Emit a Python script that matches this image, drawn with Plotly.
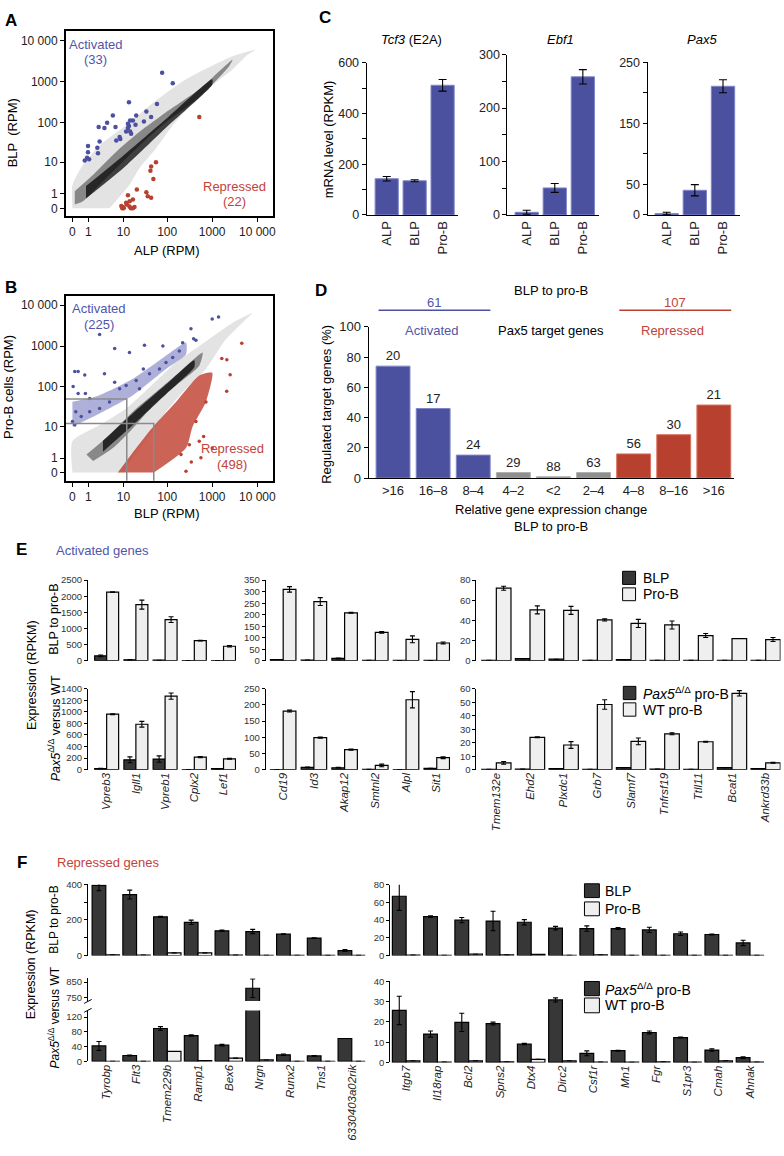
import plotly.graph_objects as go

W, H = 784, 1156
FONT = "Liberation Sans, Arial, Helvetica, sans-serif"

BLUE = "#4b509f"
BLUE_EDGE = "#8087c9"
BLUE_TXT = "#4f56aa"
RED = "#b8402f"
RED_EDGE = "#d9735f"
RED_TXT = "#c1433a"
GREY = "#8e8e8e"
DARK = "#373737"
LIGHT = "#efefef"

# ---------------- data ----------------
PSEUDO = 0.8  # pseudo-count used by the log display of RPM values
TICK_RPM = [0, 1, 10, 100, 1000, 10000]
TICK_RPM_TEXT = ["0", "1", "10", "100", "1000", "10 000"]

# Panel A: ALP (x) vs BLP (y), RPM
A_ACT_ALP = [77, 133, 13.5, 59, 34, 5.5, 19.9, 16.7, 12.8, 14.4, 43.6, 29.9, 3.9, 2.25, 3.3, 6.4, 13.5,
             11.6, 14.4, 15.2, 19.2, 8.1, 6.7, 8.4, 2.4, 0.97, 2.05, 0.97, 2.15, 0.89, 0.70, 1.07, 12.8]
A_ACT_BLP = [1660, 920, 313, 285, 186, 149, 149, 112, 93, 112, 136, 106, 98, 77, 73, 77, 82,
             60, 60, 53, 88, 44, 36, 39, 34, 26, 23.5, 18, 17, 13, 11, 12, 73]
A_REP_ALP = [517, 56, 43.6, 42, 49, 20.6, 12.8, 34, 36.6, 43.6, 16.7, 11.6, 8.9, 10.1, 13.9, 15, 16.7,
             18.2, 9.4, 12, 14, 10]
A_REP_BLP = [136, 9.9, 7.6, 5.9, 3.4, 1.5, 0.88, 1.19, 0.79, 0.65, 0.52, 0.30, 0.11, 0, 0.09, 0, 0,
             0.06, 0, 0.2, 0.4, 0.05]
# outline of the grey point cloud (sparse / core / dense)
A_CLOUD_ALP = [0, 0, 0.57, 2.4, 11.6, 40, 262, 2818, 9226, 6000, 2818, 517, 133, 56, 23.7, 13.9, 5.5, 4.5]
A_CLOUD_BLP = [0, 2.2, 8.4, 27, 85, 260, 1145, 4200, 6080, 4500, 2000, 454, 85, 22.5, 6.9, 2.2, 0.2, 0]
A_CORE_ALP = [0.1, 1.5, 6.7, 23.7, 94, 517, 2818, 2377, 517, 94, 29, 9.7, 3.0, 0.57, 0.1]
A_CORE_BLP = [1.3, 4.5, 18.6, 59, 179, 657, 3480, 2404, 413, 102, 33, 10.3, 2.9, 0.4, 0.2]
A_DENSE_ALP = [0.8, 10, 100, 1000, 1000, 100, 10, 0.8]
A_DENSE_BLP = [2, 15, 130, 1150, 850, 80, 7, 0.6]

# Panel B: BLP (x) vs pro-B (y), RPM
B_CLOUD_BLP = [0, 0, 2.4, 11.6, 40, 157, 517, 2818, 7780, 5000, 2010, 726, 262, 94, 40, 16.7, 9.7]
B_CLOUD_PROB = [0, 3.9, 10.9, 29, 98, 397, 1006, 3690, 6430, 4000, 1458, 274, 89, 24, 5.9, 1.04, 0]
B_CORE_BLP = [0.83, 4.5, 16.7, 56, 186, 613, 517, 157, 49, 16.7, 5.5, 1.5]
B_CORE_PROB = [1.42, 5.9, 24, 74, 228, 694, 330, 108, 35, 9, 2.4, 0.73]
B_DENSE_BLP = [3, 20, 100, 400, 400, 100, 20, 3]
B_DENSE_PROB = [4, 26, 120, 450, 300, 70, 13, 1.8]
B_ACT_BAND_BLP = [0, 2.4, 16.7, 94, 262, 262, 94, 16.7, 2.4, 0]
B_ACT_BAND_PROB = [9.9, 21.7, 62, 274, 633, 1210, 576, 157, 62, 42.3]
B_REP_BAND_BLP = [7.3, 19.9, 49, 157, 517, 1000, 726, 368, 262, 50]
B_REP_BAND_PROB = [0, 2.4, 10, 42, 190, 220, 42, 10, 2.4, 0]
B_ACT_BLP = [1383, 1000, 338, 2.4, 6.1, 30.8, 13.9, 387, 436, 221, 80, 0.1, 0.27, 0.7, 3.3, 0.03, 0.27,
             0.75, 1.13, 6.1, 8.1, 11.6, 19.9, 23.7, 40, 67, 133, 186, 94, 29, 0.15, 0.45, 1.13, 2.4,
             4.5, 0, 0.1]
B_ACT_PROB = [5140, 4600, 2640, 1927, 868, 1044, 694, 1513, 1390, 1210, 1006, 237, 237, 196, 210, 102,
              68, 68, 51, 130, 90, 108, 143, 90, 210, 274, 525, 761, 397, 274, 24, 18, 24, 29, 42,
              13.4, 10.9]
B_REP_BLP = [4529, 1637, 2113, 2500, 2100, 726, 645, 1000, 563, 344, 262, 311, 436, 517, 203]
B_REP_PROB = [1166, 497, 462, 199, 77, 42, 5.35, 2.4, 1.04, 0.65, 0.06, 3.06, 13.4, 3.9, 1.42]
B_GATES = [(12, 50), (50, 12)]  # (BLP, pro-B) corners of the grey gate lines

# Panel C
C_CELLS = ["ALP", "BLP", "Pro-B"]
C_TCF3 = [143, 135, 512]
C_TCF3_ERR = [9, 4, 23]
C_EBF1 = [5, 50.6, 258.6]
C_EBF1_ERR = [3.7, 8.4, 13.4]
C_PAX5 = [2.3, 40.4, 210.7]
C_PAX5_ERR = [2.1, 9.2, 10.7]

# Panel D
D_BINS = [">16", "16–8", "8–4", "4–2", "<2", "2–4", "4–8", "8–16", ">16"]
D_PCT = [74, 46, 15.2, 3.7, 0.9, 3.7, 16, 28.7, 48.3]
D_COUNTS = [20, 17, 24, 29, 88, 63, 56, 30, 21]
D_CLASS = ["act", "act", "act", "none", "none", "none", "rep", "rep", "rep"]

# Panel E (activated genes)
E_GENES_1 = ["Vpreb3", "Igll1", "Vpreb1", "Cplx2", "Lef1"]
E1_BLP = [150, 30, 15, 6, 5]
E1_BLP_ERR = [25, 5, 0, 0, 0]
E1_PROB = [2130, 1740, 1276, 623, 448]
E1_PROB_ERR = [10, 140, 90, 10, 25]
E1_PAX5 = [20, 171, 183, 2, 17]
E1_PAX5_ERR = [5, 50, 55, 0, 3]
E1_WT = [960, 786, 1272, 217, 188]
E1_WT_ERR = [8, 50, 55, 10, 8]

E_GENES_2 = ["Cd19", "Id3", "Akap12", "Smtnl2", "Alpl", "Sit1"]
E2_BLP = [5, 3, 10, 2, 1, 1]
E2_BLP_ERR = [0, 0, 2, 0, 0, 0]
E2_PROB = [310, 257, 208, 123, 93, 77]
E2_PROB_ERR = [12, 17, 2, 4, 15, 4]
E2_PAX5 = [0.5, 7, 6, 1, 0.5, 4]
E2_PAX5_ERR = [0, 1, 1, 0, 0, 0]
E2_WT = [181, 99, 62, 13, 216, 37]
E2_WT_ERR = [3, 2, 2, 4, 25, 3]

E_GENES_3 = ["Tmem132e", "Ehd2", "Plxdc1", "Grb7", "Slamf7", "Tnfrsf19", "Ttll11", "Bcat1", "Ankrd33b"]
E3_BLP = [0.4, 2, 1.5, 0.4, 1, 0.4, 0.3, 0.4, 0.3]
E3_BLP_ERR = [0, 0, 0, 0, 0, 0, 0, 0, 0]
E3_PROB = [72, 50.5, 50, 40.5, 37, 35.5, 25, 22, 21]
E3_PROB_ERR = [2, 4, 4, 1, 4, 4, 2, 0, 2]
E3_PAX5 = [0.3, 0.4, 0.8, 0.3, 1.5, 0.5, 0.3, 1.5, 0.8]
E3_PAX5_ERR = [0, 0, 0, 0, 0, 0, 0, 0, 0]
E3_WT = [5.1, 24, 18.3, 48.3, 21, 26.6, 20.7, 56.6, 5.1]
E3_WT_ERR = [1, 0.3, 2.5, 3.5, 2.5, 0.7, 0.4, 2, 0.3]

# Panel F (repressed genes)
F_GENES_1 = ["Tyrobp", "Flt3", "Tmem229b", "Ramp1", "Bex6", "Nrgn", "Runx2", "Tns1", "6330403a02rik"]
F1_BLP = [395, 343, 218, 187, 139, 135, 120, 98, 28]
F1_BLP_ERR = [30, 25, 3, 12, 4, 12, 2, 2, 5]
F1_PROB = [4, 3, 15, 15, 2, 1.5, 1.5, 1, 1]
F1_PROB_ERR = [0, 0, 0, 0, 0, 0, 0, 0, 0]
F1_PAX5 = [42, 16, 89, 70, 44, 810, 18, 15, 62]
F1_PAX5_ERR = [12, 1, 5, 2, 2, 60, 2, 1, 0]
F1_WT = [0.5, 0.3, 27, 2, 9, 4, 0.3, 0.3, 0.3]
F1_WT_ERR = [0, 0, 0, 0, 0, 0, 0, 0, 0]

F_GENES_2 = ["Itgb7", "Il18rap", "Bcl2", "Spns2", "Dtx4", "Dirc2", "Csf1r", "Mn1", "Fgr", "S1pr3", "Cmah", "Ahnak"]
F2_BLP = [67, 44, 40, 39, 37.6, 31, 30.5, 30.5, 29, 24.6, 23.8, 14.2]
F2_BLP_ERR = [16, 1, 3, 11, 3, 2, 3, 1, 3, 2, 0.5, 3]
F2_PROB = [0.5, 0.3, 1.5, 0.7, 1.2, 0.3, 0.8, 0.2, 0.2, 0.2, 0.2, 0.2]
F2_PROB_ERR = [0] * 12
F2_PAX5 = [25.7, 14, 19.8, 19.2, 9.1, 30.9, 4.5, 5.8, 14.8, 12.3, 6.1, 2.4]
F2_PAX5_ERR = [7, 1.5, 4.5, 0.7, 0.3, 1, 1.2, 0.2, 0.7, 0.2, 0.6, 0.4]
F2_WT = [0.8, 0.2, 0.8, 0.3, 1.5, 0.8, 0.2, 0.1, 0.3, 0.1, 0.8, 0.2]
F2_WT_ERR = [0] * 12

# ---------------- helpers ----------------
def dx(a, b):
    return [a / W, b / W]


def dy(top, bot):
    return [1 - bot / H, 1 - top / H]


def rpm(vals):
    return [v + PSEUDO for v in vals]


def sfx(n):
    return "" if n == 1 else str(n)


layout = dict(
    width=W, height=H, margin=dict(l=0, r=0, t=0, b=0),
    paper_bgcolor="white", plot_bgcolor="rgba(0,0,0,0)",
    showlegend=False, barmode="overlay",
    font=dict(family=FONT, color="black"),
)
annotations = []
shapes = []
traces = []


def base_axis(**kw):
    d = dict(showgrid=False, zeroline=False, showline=True, linecolor="black", linewidth=1,
             ticks="outside", tickcolor="black", ticklen=4, tickwidth=1, fixedrange=True)
    d.update(kw)
    return d


def minor(vals, ticklen=4):
    return dict(tickmode="array", tickvals=vals, ticks="outside", ticklen=ticklen,
                tickcolor="black", tickwidth=1, showgrid=False)


def set_axes(n, xd, yd, xa, ya):
    s = sfx(n)
    layout["xaxis" + s] = dict(domain=xd, anchor="y" + s, **xa)
    layout["yaxis" + s] = dict(domain=yd, anchor="x" + s, **ya)


def ref(n):
    s = sfx(n)
    return dict(xaxis="x" + s, yaxis="y" + s)


def ann(x, y, text, size=13, color="black", angle=0, xanchor="center"):
    annotations.append(dict(x=x / W, y=1 - y / H, xref="paper", yref="paper", text=text,
                            showarrow=False, font=dict(size=size, color=color, family=FONT),
                            textangle=angle, xanchor=xanchor, yanchor="middle"))


def hline(x0, y0, x1, y1, color="black", width=1.2):
    shapes.append(dict(type="line", xref="paper", yref="paper", x0=x0 / W, y0=1 - y0 / H,
                       x1=x1 / W, y1=1 - y1 / H, line=dict(color=color, width=width)))


def box(x0, y0, x1, y1, fill):
    shapes.append(dict(type="rect", xref="paper", yref="paper", x0=x0 / W, y0=1 - y1 / H,
                       x1=x1 / W, y1=1 - y0 / H, fillcolor=fill, line=dict(color="black", width=1)))


def err(a, width=2.5):
    return dict(type="data", array=a, visible=True, color="black", thickness=1.1, width=width)


def poly(n, xs, ys, fill):
    traces.append(go.Scatter(x=rpm(xs), y=rpm(ys), mode="lines", fill="toself", fillcolor=fill,
                             line=dict(width=0, shape="spline", smoothing=0.6), hoverinfo="skip", **ref(n)))


def points(n, xs, ys, color, size):
    traces.append(go.Scatter(x=rpm(xs), y=rpm(ys), mode="markers",
                             marker=dict(color=color, size=size, line=dict(width=0)), **ref(n)))


# ---------------- Panel A ----------------
scat_tick = dict(size=12, color="#222")
set_axes(1, dx(66, 274), dy(24, 212),
         base_axis(type="log", range=[-0.245, 4.347], tickvals=rpm(TICK_RPM), ticktext=TICK_RPM_TEXT,
                   mirror=True, linewidth=1.5, tickfont=scat_tick),
         base_axis(type="log", range=[-0.29, 4.25], tickvals=rpm(TICK_RPM), ticktext=TICK_RPM_TEXT,
                   mirror=True, linewidth=1.5, tickfont=scat_tick))
poly(1, A_CLOUD_ALP, A_CLOUD_BLP, "rgba(0,0,0,0.11)")
poly(1, A_CORE_ALP, A_CORE_BLP, "rgba(0,0,0,0.40)")
poly(1, A_DENSE_ALP, A_DENSE_BLP, "rgba(0,0,0,0.72)")
points(1, A_ACT_ALP, A_ACT_BLP, BLUE, 4.5)
points(1, A_REP_ALP, A_REP_BLP, RED, 4.5)
ann(96, 37.5, "Activated", 13, BLUE_TXT)
ann(96, 53.5, "(33)", 13, BLUE_TXT)
ann(235, 181.5, "Repressed", 13, RED_TXT)
ann(235, 197.5, "(22)", 13, RED_TXT)
ann(12, 127, "BLP  (RPM)", 13, angle=-90)
ann(168, 247, "ALP (RPM)", 13)
ann(11, 14, "<b>A</b>", 17)

# ---------------- Panel B ----------------
set_axes(2, dx(66, 274), dy(293, 480),
         base_axis(type="log", range=[-0.245, 4.347], tickvals=rpm(TICK_RPM), ticktext=TICK_RPM_TEXT,
                   mirror=True, linewidth=1.5, tickfont=scat_tick),
         base_axis(type="log", range=[-0.297, 4.22], tickvals=rpm(TICK_RPM), ticktext=TICK_RPM_TEXT,
                   mirror=True, linewidth=1.5, tickfont=scat_tick))
poly(2, B_CLOUD_BLP, B_CLOUD_PROB, "rgba(0,0,0,0.11)")
poly(2, B_CORE_BLP, B_CORE_PROB, "rgba(0,0,0,0.40)")
poly(2, B_DENSE_BLP, B_DENSE_PROB, "rgba(0,0,0,0.72)")
poly(2, B_ACT_BAND_BLP, B_ACT_BAND_PROB, "rgba(75,80,170,0.45)")
poly(2, B_REP_BAND_BLP, B_REP_BAND_PROB, "rgba(190,60,45,0.8)")
points(2, B_ACT_BLP, B_ACT_PROB, BLUE, 3.5)
points(2, B_REP_BLP, B_REP_PROB, RED, 3.5)
for gx, gy in B_GATES:
    traces.append(go.Scatter(x=rpm([-0.35, gx, gx]), y=rpm([gy, gy, -0.5]), mode="lines",
                             line=dict(color="#8a8a8a", width=1.5), hoverinfo="skip", **ref(2)))
ann(99, 305, "Activated", 13, BLUE_TXT)
ann(99, 321.5, "(225)", 13, BLUE_TXT)
ann(233, 447, "Repressed", 13, RED_TXT)
ann(233, 463.5, "(498)", 13, RED_TXT)
ann(8, 385, "Pro-B cells (RPM)", 13, angle=-90)
ann(168, 513, "BLP (RPM)", 13)
ann(11, 284, "<b>B</b>", 17)

# ---------------- Panel C ----------------
c_tick = dict(size=12.5, color="#222")
c_specs = [
    (3, (368, 460), (56.7, 210.7), [-0.72, 2.56], C_TCF3, C_TCF3_ERR, 600,
     [0, 200, 400, 600], [100, 300, 500], "<i>Tcf3</i> (E2A)", 413),
    (4, (509.3, 601.7), (48.3, 210.7), [-0.69, 2.59], C_EBF1, C_EBF1_ERR, 300,
     [0, 100, 200, 300], [50, 150, 250], "<i>Ebf1</i>", 562.7),
    (5, (650, 743.3), (56, 210.7), [-0.68, 2.62], C_PAX5, C_PAX5_ERR, 250,
     [0, 50, 150, 250], [100, 200], "<i>Pax5</i>", 705),
]
for n, xr, yr, xrange_, vals, errs, ymax, tv, mv, title, tx in c_specs:
    set_axes(n, dx(*xr), dy(*yr),
             base_axis(type="category", range=xrange_, ticks="", tickangle=-90, tickfont=dict(size=13, color="#222")),
             base_axis(range=[0, ymax], tickvals=tv, ticktext=[str(v) for v in tv], tickfont=c_tick,
                       minor=minor(mv)))
    traces.append(go.Bar(x=C_CELLS, y=vals, width=0.83,
                         marker=dict(color=BLUE, line=dict(color=BLUE_EDGE, width=1)),
                         error_y=err(errs, 4), **ref(n)))
    ann(tx, 33, title, 13)
ann(329.3, 134, "mRNA level (RPKM)", 13, angle=-90)
ann(326, 11, "<b>C</b>", 17)

# ---------------- Panel D ----------------
d_colors = [BLUE if c == "act" else (RED if c == "rep" else GREY) for c in D_CLASS]
d_edges = [BLUE_EDGE if c == "act" else (RED_EDGE if c == "rep" else "#b0b0b0") for c in D_CLASS]
set_axes(6, dx(370, 736.7), dy(324, 477.3),
         base_axis(range=[-0.61, 8.5], ticks="", tickvals=list(range(len(D_BINS))), ticktext=D_BINS,
                   tickfont=dict(size=13, color="#222")),
         base_axis(range=[0, 100], tickvals=list(range(0, 101, 20)), tickfont=dict(size=13, color="#222")))
traces.append(go.Bar(x=list(range(len(D_BINS))), y=D_PCT, width=0.845, text=[str(c) for c in D_COUNTS],
                     textposition="outside", textfont=dict(size=13, color="#222"), cliponaxis=False,
                     marker=dict(color=d_colors, line=dict(color=d_edges, width=1)), **ref(6)))
ann(322, 287, "<b>D</b>", 17)
ann(553, 287, "BLP to pro-B", 13)
ann(436, 299, "61", 13, BLUE_TXT)
ann(678, 299, "107", 13, RED_TXT)
hline(380, 307.3, 492.3, 307.3, BLUE, 1.5)
hline(621.7, 307.3, 734, 307.3, RED, 1.5)
ann(433, 327.5, "Activated", 13, BLUE_TXT)
ann(553, 327.5, "Pax5 target genes", 13)
ann(675, 327.5, "Repressed", 13, RED_TXT)
ann(553, 509.5, "Relative gene expression change", 13)
ann(553, 526, "BLP to pro-B", 13)
ann(328.3, 403, "Regulated target genes (%)", 13, angle=-90)

# ---------------- grouped bar panels (E, F) ----------------
num_tick = dict(size=9.5, color="#333")
gene_tick = dict(size=11.5, color="#222")


def grouped(n, xd, yd, xrange_, genes, show_labels, yrange, tv, w,
            dark, dark_err, light, light_err, mv=None):
    xs = list(range(len(genes)))
    ya = base_axis(range=yrange, tickvals=tv, ticktext=[str(v) for v in tv], tickfont=num_tick, ticklen=3)
    if mv:
        ya["minor"] = minor(mv, 3)
    set_axes(n, dx(*xd), dy(*yd),
             dict(range=xrange_, showgrid=False, zeroline=False, showline=False, ticks="",
                  tickvals=xs, ticktext=["<i>%s</i>" % g for g in genes], showticklabels=show_labels,
                  tickangle=-90, tickfont=gene_tick, fixedrange=True),
             ya)
    traces.append(go.Bar(x=xs, y=dark, width=w / 2, offset=-w / 2,
                         marker=dict(color=DARK, line=dict(color="black", width=1.2)),
                         error_y=err(dark_err), **ref(n)))
    traces.append(go.Bar(x=xs, y=light, width=w / 2, offset=0,
                         marker=dict(color=LIGHT, line=dict(color="black", width=1.2)),
                         error_y=err(light_err), **ref(n)))


# E top row (BLP vs pro-B)
grouped(7, (88.3, 237), (580.7, 662.3), [-0.64, 4.43], E_GENES_1, False, [0, 2500],
        list(range(0, 2501, 500)), 0.82, E1_BLP, E1_BLP_ERR, E1_PROB, E1_PROB_ERR)
grouped(8, (266.7, 452), (580.7, 662.3), [-0.57, 5.44], E_GENES_2, False, [0, 350],
        list(range(0, 351, 50)), 0.83, E2_BLP, E2_BLP_ERR, E2_PROB, E2_PROB_ERR)
grouped(9, (478.3, 783.5), (580.7, 662.3), [-0.59, 8.44], E_GENES_3, False, [0, 80],
        list(range(0, 81, 20)), 0.87, E3_BLP, E3_BLP_ERR, E3_PROB, E3_PROB_ERR)
# E bottom row (Pax5 del vs WT)
grouped(10, (88.3, 237), (690.7, 772.7), [-0.64, 4.43], E_GENES_1, True, [0, 1400],
        list(range(0, 1401, 200)), 0.82, E1_PAX5, E1_PAX5_ERR, E1_WT, E1_WT_ERR)
grouped(11, (266.7, 452), (690.7, 772.7), [-0.57, 5.44], E_GENES_2, True, [0, 250],
        list(range(0, 251, 50)), 0.83, E2_PAX5, E2_PAX5_ERR, E2_WT, E2_WT_ERR)
grouped(12, (478.3, 783.5), (690.7, 772.7), [-0.59, 8.44], E_GENES_3, True, [0, 60],
        list(range(0, 61, 10)), 0.87, E3_PAX5, E3_PAX5_ERR, E3_WT, E3_WT_ERR)

ann(22, 550, "<b>E</b>", 17)
ann(103, 551, "Activated genes", 13, BLUE_TXT)
ann(54, 620, "BLP to pro-B", 12.5, angle=-90)
ann(32, 677, "Expression (RPKM)", 12.5, angle=-90)
ann(54, 731, "<i>Pax5</i><sup>Δ/Δ</sup> versus WT", 12.5, angle=-90)
box(625, 571.7, 638, 585, DARK)
box(625, 588.5, 638, 601.5, LIGHT)
ann(643, 578.5, "BLP", 14, xanchor="left")
ann(643, 595, "Pro-B", 14, xanchor="left")
box(625.7, 688.3, 638.3, 701.7, DARK)
box(625.7, 705, 638.3, 718.5, LIGHT)
ann(643, 695, "<i>Pax5</i><sup>Δ/Δ</sup> pro-B", 14, xanchor="left")
ann(643, 712, "WT pro-B", 14, xanchor="left")

# F top row
grouped(13, (88.3, 366.7), (889, 961), [-0.58, 8.44], F_GENES_1, False, [0, 400],
        [0, 200, 400], 0.89, F1_BLP, F1_BLP_ERR, F1_PROB, F1_PROB_ERR, mv=[100, 300])
grouped(14, (391.7, 767.3), (889.3, 961), [-0.51, 11.46], F_GENES_2, False, [0, 80],
        list(range(0, 81, 20)), 0.88, F2_BLP, F2_BLP_ERR, F2_PROB, F2_PROB_ERR)
# F bottom row: left panel with broken axis (lower + upper segment)
grouped(15, (88.3, 366.7), (1016.7, 1068.3), [-0.58, 8.44], F_GENES_1, True, [0, 137.6],
        [0, 40, 80, 120], 0.89, F1_PAX5, F1_PAX5_ERR, F1_WT, F1_WT_ERR)
grouped(16, (88.3, 366.7), (984, 1007), [-0.58, 8.44], F_GENES_1, False, [728, 875],
        [750, 850], 0.89, F1_PAX5, F1_PAX5_ERR, F1_WT, F1_WT_ERR)
grouped(17, (391.7, 767.3), (987.3, 1069.3), [-0.51, 11.46], F_GENES_2, True, [0, 40],
        list(range(0, 41, 10)), 0.88, F2_PAX5, F2_PAX5_ERR, F2_WT, F2_WT_ERR)
# axis break marks
hline(84.5, 1009.5, 92, 1005.5, "black", 1)
hline(84.5, 1018.5, 92, 1014.5, "black", 1)

ann(22, 867, "<b>F</b>", 17)
ann(108, 867, "Repressed genes", 13, RED_TXT)
ann(54, 925, "BLP to pro-B", 12, angle=-90)
ann(32, 970, "Expression (RPKM)", 12.5, angle=-90)
ann(54, 1024, "<i>Pax5</i><sup>Δ/Δ</sup> versus WT", 12, angle=-90)
box(586.7, 888.3, 601.7, 902.3, DARK)
box(586.7, 906.7, 601.7, 920.7, LIGHT)
ann(605, 895.5, "BLP", 14, xanchor="left")
ann(605, 913.7, "Pro-B", 14, xanchor="left")
box(586.7, 987.3, 601.7, 1001.7, DARK)
box(586.7, 1004, 601.7, 1019, LIGHT)
ann(605, 994.5, "<i>Pax5</i><sup>Δ/Δ</sup> pro-B", 14, xanchor="left")
ann(605, 1011.5, "WT pro-B", 14, xanchor="left")

layout["annotations"] = annotations
layout["shapes"] = shapes
fig = go.Figure(data=traces, layout=layout)
fig.write_html("out.html", config={"displayModeBar": False},
               post_script="document.body.style.margin='0';document.body.style.overflow='hidden';")
